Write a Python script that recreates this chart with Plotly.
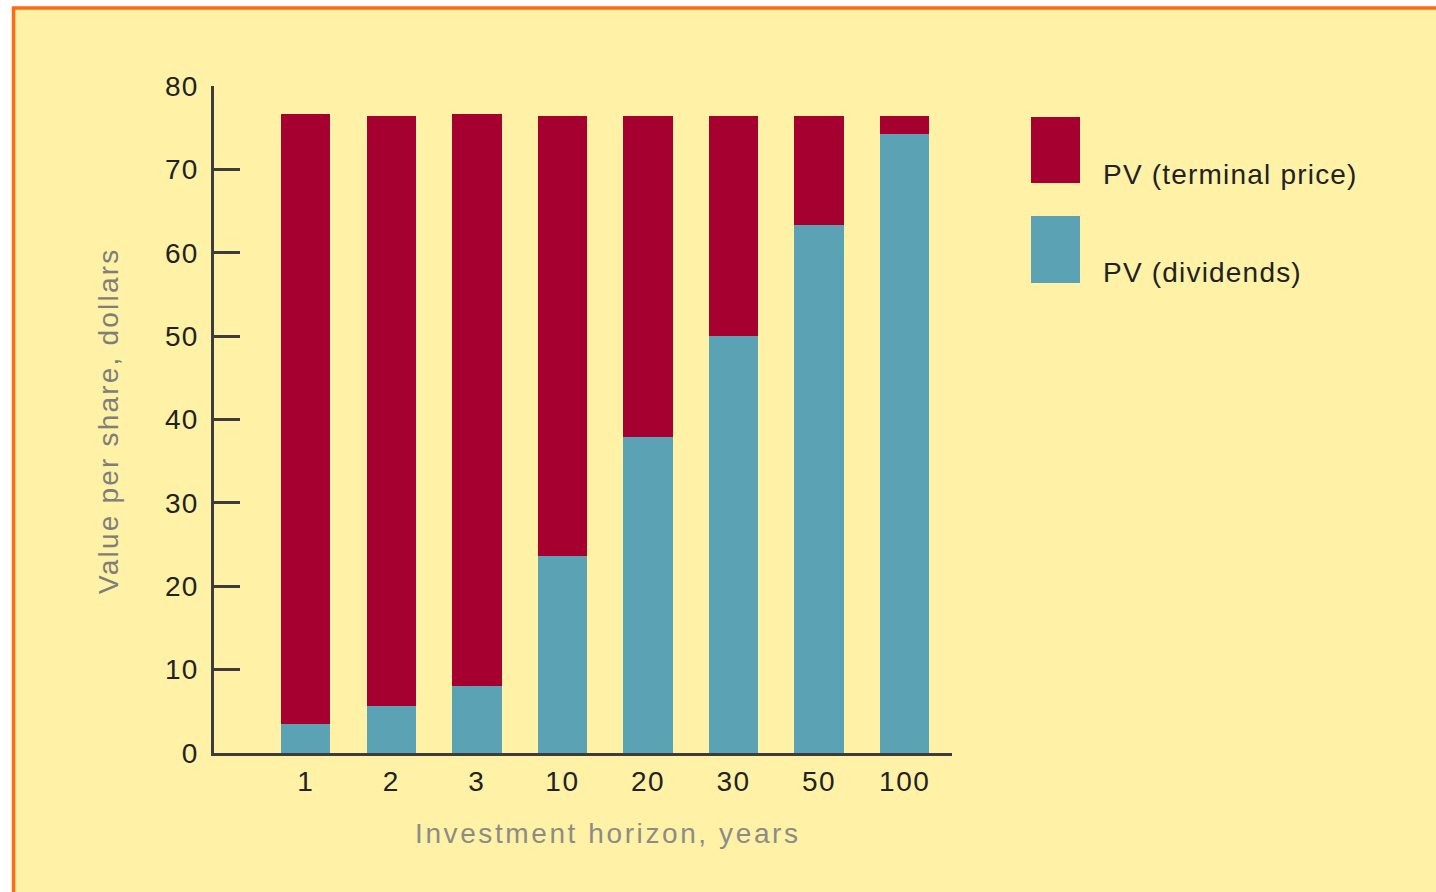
import plotly.graph_objects as go

# Investment horizon (years) and present-value components, dollars per share
horizons = ["1", "2", "3", "10", "20", "30", "50", "100"]
pv_dividends = [3.5, 5.6, 8.0, 23.6, 37.9, 50.0, 63.3, 74.2]
pv_terminal = [73.1, 70.8, 68.6, 52.8, 38.5, 26.4, 13.1, 2.2]
y_ticks = [0, 10, 20, 30, 40, 50, 60, 70, 80]

RED = "#A5002F"
BLUE = "#5BA3B4"
BG = "#FFF2A6"
FRAME = "#FF6B12"
AXIS = "#3C3C3C"
FONT = "Liberation Sans, Arial, Helvetica, sans-serif"

W, H = 1436, 892
L, R, T, B = 214, 484, 86, 139
PW, PH = W - L - R, H - T - B


def px_x(px):
    return (px - L) / PW


def px_y(py):
    return (H - B - py) / PH


def spaced(text, sp):
    return f'<span style="letter-spacing:{sp}px">{text}</span>'


fig = go.Figure()
fig.add_bar(x=horizons, y=pv_dividends, name="PV (dividends)",
            marker=dict(color=BLUE, line=dict(width=0)), width=0.578,
            showlegend=False)
fig.add_bar(x=horizons, y=pv_terminal, name="PV (terminal price)",
            marker=dict(color=RED, line=dict(width=0)), width=0.578,
            showlegend=False)

shapes = [
    # page frame
    dict(type="rect", xref="paper", yref="paper", layer="below",
         x0=px_x(13.5), x1=px_x(1460), y0=px_y(910), y1=px_y(8),
         fillcolor=BG, line=dict(color=FRAME, width=3.5)),
    # legend swatches
    dict(type="rect", xref="paper", yref="paper",
         x0=px_x(1031), x1=px_x(1080), y0=px_y(183), y1=px_y(117),
         fillcolor=RED, line=dict(width=0)),
    dict(type="rect", xref="paper", yref="paper",
         x0=px_x(1031), x1=px_x(1080), y0=px_y(283), y1=px_y(216),
         fillcolor=BLUE, line=dict(width=0)),
]

annotations = [
    dict(text=spaced("PV (terminal price)", 1.2), xref="paper", yref="paper",
         x=px_x(1101), y=px_y(174), xanchor="left", yanchor="middle",
         showarrow=False, font=dict(family=FONT, size=28, color="#222222")),
    dict(text=spaced("PV (dividends)", 1.2), xref="paper", yref="paper",
         x=px_x(1101), y=px_y(272), xanchor="left", yanchor="middle",
         showarrow=False, font=dict(family=FONT, size=28, color="#222222")),
    dict(text=spaced("Investment horizon, years", 2.6), xref="paper", yref="paper",
         x=px_x(608), y=px_y(833), xanchor="center", yanchor="middle",
         showarrow=False, font=dict(family=FONT, size=28, color="#8C8C86")),
    dict(text=spaced("Value per share, dollars", 2.2), xref="paper", yref="paper",
         x=px_x(108), y=px_y(421), xanchor="center", yanchor="middle",
         textangle=-90, showarrow=False,
         font=dict(family=FONT, size=28, color="#7E7E7A")),
]

fig.update_layout(
    width=W, height=H,
    margin=dict(l=L, r=R, t=T, b=B, pad=0),
    paper_bgcolor="white",
    plot_bgcolor="rgba(0,0,0,0)",
    barmode="stack",
    shapes=shapes,
    annotations=annotations,
    font=dict(family=FONT, size=28, color="#222222"),
    xaxis=dict(
        type="category", range=[-1.072, 7.553],
        showline=True, linecolor=AXIS, linewidth=2.5,
        ticks="", showgrid=False, zeroline=False,
        tickvals=horizons, ticktext=[spaced(h, 1.5) for h in horizons],
        tickfont=dict(family=FONT, size=28, color="#222222"),
        ticklabelstandoff=2,
    ),
    yaxis=dict(
        range=[0, 80],
        showline=True, linecolor=AXIS, linewidth=2.5,
        ticks="inside", ticklen=26, tickwidth=2.5, tickcolor=AXIS,
        showgrid=False, zeroline=False,
        tickvals=y_ticks, ticktext=[spaced(str(v), 1.2) for v in y_ticks],
        tickfont=dict(family=FONT, size=28, color="#222222"),
        ticklabelstandoff=7,
    ),
)

fig.write_html("out.html")
